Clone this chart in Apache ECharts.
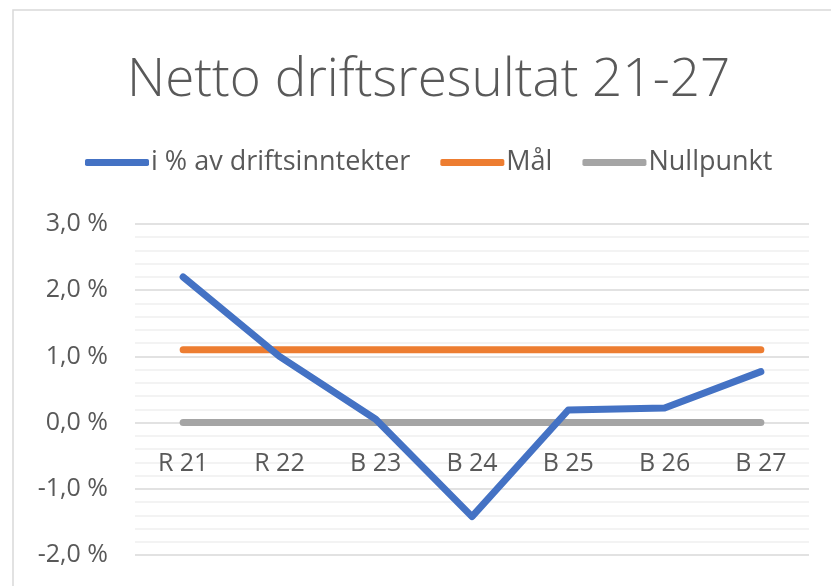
<!DOCTYPE html>
<html>
<head>
<meta charset="utf-8">
<script src="https://cdn.jsdelivr.net/npm/echarts@6/dist/echarts.min.js"></script>
<style>
  html, body { margin: 0; padding: 0; background: #fff; }
  #chart { width: 831px; height: 586px; }
</style>
</head>
<body>
<div id="chart"></div>
<script>
// Data
const categories = ['R 21', 'R 22', 'B 23', 'B 24', 'B 25', 'B 26', 'B 27'];
const andel = [2.2, 1.0, 0.05, -1.42, 0.19, 0.22, 0.77];
const maal = [1.1, 1.1, 1.1, 1.1, 1.1, 1.1, 1.1];
const nullpunkt = [0, 0, 0, 0, 0, 0, 0];
const seriesNames = ['i % av driftsinntekter', 'Mål', 'Nullpunkt'];

const textColor = '#595959';
const font = '"Open Sans", "Noto Sans", sans-serif';

const chart = echarts.init(document.getElementById('chart'));

const lineSeries = (name, data, color) => ({
  name: name,
  type: 'line',
  data: data,
  showSymbol: false,
  symbol: 'none',
  lineStyle: { width: 7, color: color, cap: 'round', join: 'round' },
  itemStyle: { color: color },
  emphasis: { disabled: true }
});

const option = {
  backgroundColor: '#fff',
  animation: false,
  title: {
    text: 'Netto driftsresultat 21-27',
    left: 122,
    top: 49,
    textStyle: { fontFamily: font, fontSize: 53, fontWeight: 300, color: textColor }
  },
  legend: {
    data: seriesNames,
    left: 80,
    top: 144,
    itemWidth: 64,
    itemHeight: 7,
    itemGap: 30,
    icon: 'roundRect',
    textStyle: { fontFamily: font, fontSize: 27, color: textColor, padding: [0, 0, 0, -3] }
  },
  graphic: [{
    type: 'rect',
    shape: { x: 13, y: 10, width: 1000, height: 1000 },
    style: { fill: 'none', stroke: '#d9d9d9', lineWidth: 1.5 },
    silent: true
  }],
  grid: { left: 135, right: 22, top: 224, bottom: 31, outerBoundsMode: 'none' },
  xAxis: {
    type: 'category',
    data: categories,
    boundaryGap: true,
    // category axis sits on the zero line (0 is 2 units above the -2 bottom)
    offset: -132,
    axisLine: { show: false, onZero: false },
    axisTick: { show: false },
    axisLabel: { color: textColor, fontFamily: font, fontSize: 25, margin: 28 }
  },
  yAxis: {
    type: 'value',
    min: -2,
    max: 3,
    interval: 1,
    axisLine: { show: false },
    axisTick: { show: false },
    axisLabel: {
      color: textColor, fontFamily: font, fontSize: 25, margin: 27,
      formatter: v => v.toFixed(1).replace('.', ',') + ' %'
    },
    splitLine: { lineStyle: { color: '#d9d9d9', width: 1.5 } },
    minorTick: { show: false, splitNumber: 5 },
    minorSplitLine: { show: true, lineStyle: { color: '#efefef', width: 1.5 } }
  },
  series: [
    lineSeries(seriesNames[2], nullpunkt, '#A5A5A5'),
    lineSeries(seriesNames[1], maal, '#ED7D31'),
    lineSeries(seriesNames[0], andel, '#4472C4')
  ]
};

chart.setOption(option);
window.addEventListener('resize', () => chart.resize());
</script>
</body>
</html>
